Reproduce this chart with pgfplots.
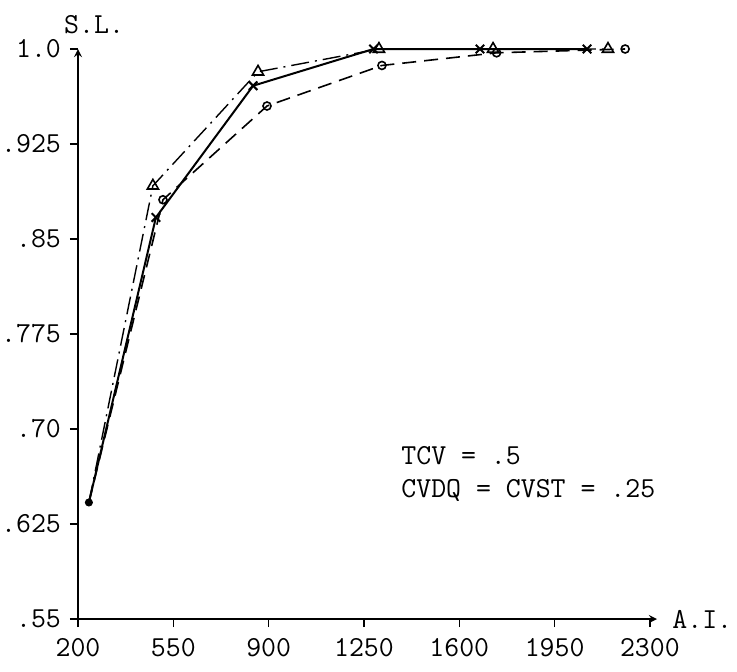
\documentclass[border=0pt]{standalone}
\usepackage{fontspec}
\usepackage{pgfplots}
\pgfplotsset{compat=1.18}
\newcommand{\tw}{\ttfamily\fontsize{14.5}{17}\selectfont}
\begin{document}
\begin{tikzpicture}
\useasboundingbox (-39pt,-26pt) rectangle (329.5pt,309.5pt);
\begin{axis}[
  scale only axis,
  width=289.5pt, height=285pt,
  xmin=200, xmax=2326, ymin=0.55, ymax=1.0,
  axis lines=left,
  axis line style={line width=0.8pt, -stealth},
  clip=false,
  xtick={200,550,900,1250,1600,1950,2300},
  xticklabels={200,550,900,1250,1600,1950,2300},
  ytick={0.55,0.625,0.70,0.775,0.85,0.925,1.0},
  yticklabels={.55,.625,.70,.775,.85,.925,1.0},
  tick align=outside,
  major tick length=4pt,
  tick style={black, line width=0.6pt},
  every tick label/.append style={font=\tw},
  xticklabel style={yshift=-2pt},
  yticklabel style={xshift=-1pt},
]
% solid, crosses
\addplot[black, line width=1pt, mark=x, mark size=3pt, mark indices={2,3,4,5,6}, mark options={solid, line width=1pt}]
  coordinates {(240,0.642) (486,0.867) (843,0.971) (1285,1.0) (1676,1.0) (2069,1.0)};
% dash-dot, triangles
\addplot[black, line width=0.7pt, dash pattern=on 9pt off 3pt on 1pt off 3pt, mark=triangle, mark size=3.2pt, mark indices={2,3,4,5,6}, mark options={solid, line width=0.8pt}]
  coordinates {(240,0.642) (475,0.892) (861,0.982) (1305,1.0) (1724,1.0) (2146,1.0)};
% dashed, circles
\addplot[black, line width=0.8pt, dash pattern=on 7pt off 4pt, mark=o, mark size=2pt, mark indices={2,3,4,5,6}, mark options={solid, line width=0.8pt}]
  coordinates {(240,0.642) (512,0.881) (894,0.955) (1316,0.987) (1737,0.997) (2209,1.0)};
% common starting point
\addplot[only marks, mark=*, mark size=1.8pt, black] coordinates {(240,0.642)};
\node[anchor=base west, font=\tw, inner sep=0pt] at (axis cs:1386,0.6716) {TCV = .5};
\node[anchor=base west, font=\tw, inner sep=0pt] at (axis cs:1386,0.6463) {CVDQ = CVST = .25};
\node[font=\tw] at (axis cs:259,1.019) {S.L.};
\node[anchor=west, font=\tw, inner sep=0pt] at (axis cs:2381,0.55) {A.I.};
\end{axis}
\end{tikzpicture}
\end{document}
